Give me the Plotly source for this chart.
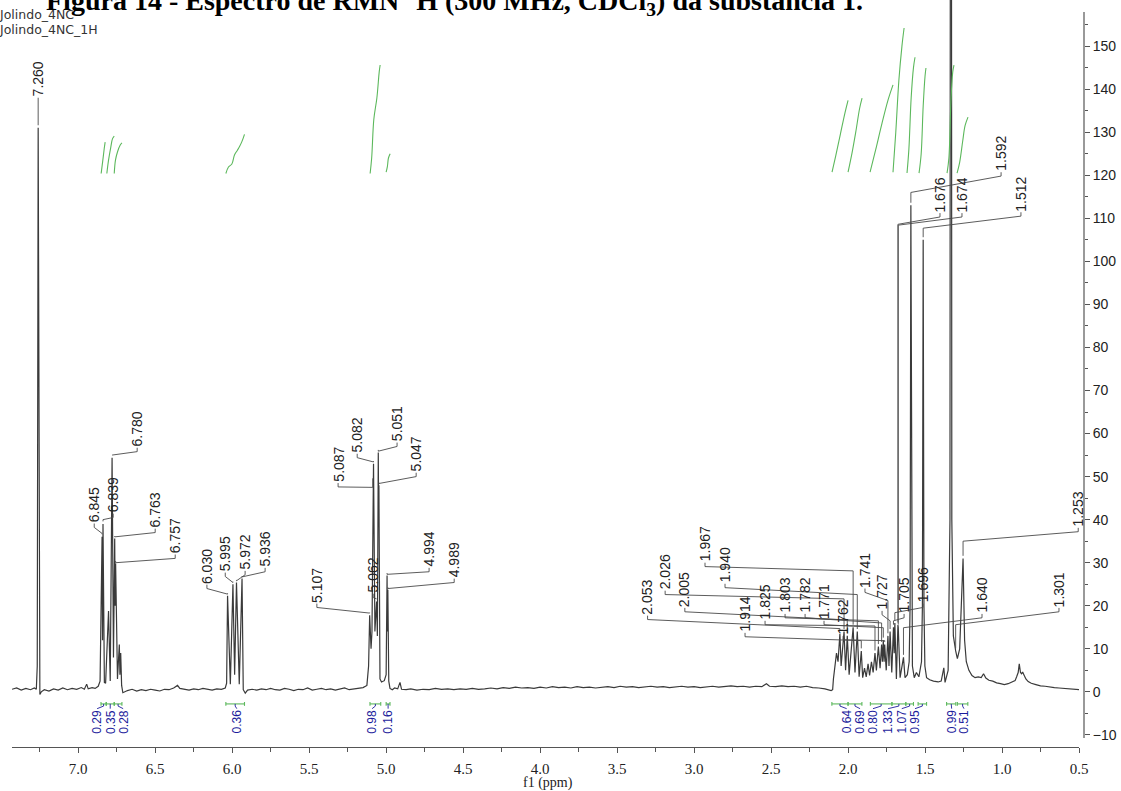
import plotly.graph_objects as go

# ---------------- axis frame ----------------
X_LEFT, X_RIGHT = 7.43, 0.50          # f1 (ppm), reversed
Y_BOTTOM, Y_TOP = -10.7, 160.7        # intensity
Y_AXIS_TOP = 157.9

# ---------------- labelled peaks ----------------
peak_labels = ["7.260", "6.845", "6.839", "6.780", "6.763", "6.757",
               "6.030", "5.995", "5.972", "5.936",
               "5.107", "5.087", "5.082", "5.062", "5.051", "5.047", "4.994", "4.989",
               "2.053", "2.026", "2.005", "1.967", "1.940", "1.914", "1.825", "1.803",
               "1.782", "1.771", "1.762", "1.741", "1.727", "1.705", "1.696", "1.676",
               "1.674", "1.640", "1.592", "1.512", "1.301", "1.253"]
peak_heights = [131, 36, 39, 54.4, 35.6, 29.8,
                22.3, 25, 25.4, 26.3,
                17.8, 49, 53, 21, 55.6, 48, 27, 23.7,
                13.5, 14, 13, 15, 14, 9.5, 9, 10.5,
                11, 12, 11, 13, 14, 15, 16, 15.5,
                15, 8, 113, 105, 9.5, 31]

# ---------------- remaining trace vertices (baseline, valleys, unlabelled lines) ----------------
trace_ppm = [
    7.43, 7.40, 7.37, 7.34, 7.31, 7.285, 7.272, 7.266, 7.254, 7.249, 7.24, 7.22, 7.19, 7.16,
    7.13, 7.10, 7.07, 7.04, 7.01, 6.98, 6.96, 6.945, 6.935, 6.91, 6.89, 6.870, 6.858,
    6.842, 6.830, 6.822, 6.803, 6.792, 6.771, 6.760, 6.745, 6.733, 6.729, 6.724, 6.718, 6.71,
    6.68, 6.65, 6.62, 6.59, 6.56, 6.53, 6.50, 6.47, 6.44, 6.41, 6.38, 6.355, 6.34, 6.31,
    6.28, 6.25, 6.22, 6.19, 6.16, 6.13, 6.10, 6.07, 6.045, 6.036, 6.012, 5.984, 5.954,
    5.928, 5.915, 5.90, 5.87, 5.84, 5.81, 5.78, 5.75, 5.72, 5.69, 5.66, 5.63, 5.60, 5.57,
    5.54, 5.51, 5.48, 5.45, 5.42, 5.39, 5.36, 5.33, 5.30, 5.27, 5.24, 5.21, 5.18, 5.15,
    5.125, 5.114, 5.098, 5.092, 5.0845, 5.073, 5.067, 5.057, 5.049, 5.040, 5.030, 5.012,
    5.000, 4.9915, 4.983, 4.975, 4.96, 4.945, 4.925, 4.910, 4.900,
    4.87, 4.84, 4.80, 4.76, 4.72, 4.68, 4.64, 4.60, 4.56, 4.52, 4.48, 4.44, 4.40, 4.36,
    4.32, 4.28, 4.24, 4.20, 4.16, 4.12, 4.08, 4.04, 4.00, 3.96, 3.92, 3.88, 3.84, 3.80,
    3.76, 3.72, 3.68, 3.64, 3.60, 3.56, 3.52, 3.48, 3.44, 3.40, 3.36, 3.32, 3.28, 3.24,
    3.20, 3.16, 3.12, 3.08, 3.04, 3.00, 2.96, 2.92, 2.88, 2.84, 2.80, 2.76, 2.72, 2.68,
    2.64, 2.60, 2.56, 2.53, 2.51, 2.47, 2.43, 2.39, 2.35, 2.31, 2.27, 2.23, 2.19, 2.15,
    2.11, 2.10, 2.095, 2.085, 2.075, 2.065, 2.045, 2.036, 2.016, 1.993, 1.980, 1.955,
    1.948, 1.928, 1.921, 1.905, 1.893, 1.882, 1.870, 1.860, 1.848, 1.837, 1.816, 1.792,
    1.777, 1.766, 1.752, 1.734, 1.716, 1.700, 1.686, 1.662, 1.652, 1.630, 1.615, 1.603,
    1.597, 1.587, 1.582, 1.570, 1.556, 1.540, 1.523, 1.517, 1.507, 1.501, 1.490, 1.470,
    1.445, 1.415, 1.395, 1.378, 1.370, 1.350, 1.338, 1.332, 1.326, 1.316, 1.290, 1.275,
    1.243, 1.232, 1.215, 1.195, 1.175, 1.155, 1.135, 1.120, 1.105, 1.085, 1.060, 1.035,
    1.010, 0.985, 0.960, 0.935, 0.915, 0.905, 0.895, 0.888, 0.880, 0.873, 0.866, 0.858,
    0.845, 0.830, 0.810, 0.780, 0.750, 0.720, 0.690, 0.660, 0.630, 0.600, 0.570, 0.540,
    0.500,
]
trace_int = [
    0.6, 0.9, 0.4, 0.8, 0.5, 0.9, 0.6, 6, 5, -0.6, 0.0, 0.5, 0.2, 0.7,
    0.4, 0.9, 0.5, 0.8, 0.6, 1.0, 0.6, 1.8, 0.7, 1.0, 0.8, 1.3, 2.5,
    12, 2.2, 2.0, 18.8, 2.5, 8, 20, 3, 11, 4, 9, 1.5, -0.2,
    0.3, 0.6, 0.2, 0.5, 0.3, 0.6, 0.4, 0.2, 0.6, 0.5, 0.9, 1.5, 0.8, 0.6,
    0.4, 0.7, 0.5, 0.8, 0.6, 0.4, 0.7, 0.6, 0.9, 2, 1.8, 4, 1.8,
    0.5, -0.3, 0.4, 0.6, 0.4, 0.7, 0.5, 0.8, 0.5, 0.4, 0.8, 0.6, 0.3, 0.6,
    0.5, 0.9, 0.4, 0.6, 0.8, 0.5, 0.7, 0.4, 0.6, 0.9, 0.5, 0.7, 0.8, 1.0,
    1.5, 6, 10, 14, 40, 14, 17, 13, 42, 3, 2.3, 2.6,
    4, 14, 2.5, 0.8, 0.5, 0.9, 0.7, 2.2, 0.6,
    0.5, 0.7, 0.4, 0.6, 0.5, 0.8, 0.6, 0.7, 0.5, 0.7, 0.6, 0.8, 0.6, 0.7,
    0.9, 0.7, 1.0, 0.8, 1.1, 0.9, 1.0, 0.8, 1.1, 0.9, 1.2, 1.0, 1.1, 0.9,
    1.2, 1.0, 1.1, 0.9, 1.0, 1.2, 1.0, 1.3, 1.1, 1.2, 1.0, 1.1, 1.3, 1.1,
    1.2, 1.0, 1.1, 1.3, 1.1, 1.2, 1.0, 1.2, 1.3, 1.1, 1.2, 1.4, 1.2, 1.3,
    1.1, 1.3, 1.2, 1.9, 1.3, 1.2, 1.4, 1.2, 1.3, 1.1, 1.3, 1.0, 0.9, 0.7,
    0.3, 0.5, 3, 6, 9, 7, 6, 10, 5, 4, 9, 4.5,
    8, 3.5, 6, 3.3, 5.5, 3.5, 6.5, 3.8, 7, 4.5, 5, 5.5,
    7, 7, 5, 6, 4.5, 9, 3, 3.3, 6, 3.3, 4, 7,
    20, 20, 6, 3.3, 4.5, 3.5, 7, 20, 20, 6, 3.3, 2.8,
    2.5, 2.3, 2.5, 5.6, 2.2, 5, 40, 420, 40, 13, 7.7, 10,
    12, 7, 5, 3.8, 3.3, 3.5, 3.3, 4.2, 3.2, 2.7, 2.5, 2.1,
    1.9, 1.7, 1.9, 2.2, 2.6, 3.5, 4.5, 6.5, 4.5, 4.2, 4.6, 4.0,
    3.0, 2.4, 2.0, 1.7, 1.4, 1.3, 1.1, 1.0, 0.9, 0.8, 0.7, 0.6,
    0.5,
]

# ---------------- peak-label layout: label position (ppm), text foot, leader elbow ----------------
label_ppm = [7.260, 6.896, 6.773, 6.617, 6.500, 6.370,
             6.164, 6.045, 5.916, 5.786,
             5.450, 5.312, 5.188, 5.084, 4.929, 4.805, 4.721, 4.558,
             3.302, 3.188, 3.060, 2.929, 2.799, 2.669, 2.539, 2.409,
             2.279, 2.156, 2.032, 1.890, 1.779, 1.636, 1.513, 1.403,
             1.260, 1.130, 1.006, 0.877, 0.630, 0.505]
label_foot = [138, 39.1, 41.4, 56.7, 37.9, 31.9,
              24.9, 27.7, 28.1, 28.8,
              20.5, 48.5, 55.3, 22.8, 57.9, 50.9, 28.8, 26.3,
              17.7, 23.5, 19.5, 30, 25.1, 13.7, 16.5, 18.1,
              18.1, 16.5, 13, 24, 18.8, 18.1, 20.5, 111.2,
              111.2, 18.1, 120.7, 111.4, 19.5, 38.1]
leader_elbow = [135, 36.8, 40, 55, 36, 30,
                22.7, 25.4, 25.8, 26.7,
                18.3, 47.5, 53.4, 21.6, 55.9, 48.4, 27.3, 24,
                14.7, 21.6, 16.7, 28.1, 22.6, 11.9, 15.3, 16.5,
                16, 14.9, 11.9, 21.2, 16.5, 16.5, 18.4, 108.6,
                108.4, 14.9, 116, 107.7, 15.6, 35]

# ---------------- integrals ----------------
integral_values = ["0.29", "0.35", "0.28", "0.36", "0.98", "0.16", "0.64",
                   "0.69", "0.80", "1.33", "1.07", "0.95", "0.99", "0.51"]
integral_from = [6.852, 6.818, 6.766, 6.041, 5.105, 5.000, 2.105,
                 2.000, 1.855, 1.715, 1.625, 1.545, 1.360, 1.290]
integral_to = [6.818, 6.766, 6.716, 5.920, 5.035, 4.975, 2.000,
               1.910, 1.715, 1.625, 1.575, 1.490, 1.300, 1.222]
integral_label_ppm = [6.877, 6.792, 6.708, 5.970, 5.091, 4.987, 2.009,
                      1.922, 1.838, 1.740, 1.651, 1.565, 1.327, 1.247]
# cumulative integral curves drawn above the multiplets
integral_curve_ppm = [
    [6.851, 6.840, 6.831, 6.825],
    [6.814, 6.803, 6.788, 6.777, 6.766],
    [6.766, 6.758, 6.745, 6.727, 6.716],
    [6.041, 6.024, 6.002, 5.985, 5.966, 5.953, 5.937, 5.920],
    [5.104, 5.094, 5.080, 5.060, 5.045, 5.039],
    [5.000, 4.992, 4.985, 4.974],
    [2.104, 2.080, 2.050, 2.020, 2.000],
    [2.000, 1.975, 1.950, 1.925, 1.909],
    [1.857, 1.820, 1.780, 1.740, 1.708],
    [1.708, 1.690, 1.670, 1.650, 1.636],
    [1.617, 1.605, 1.590, 1.575, 1.565],
    [1.539, 1.525, 1.512, 1.500, 1.494],
    [1.357, 1.345, 1.332, 1.320, 1.312],
    [1.292, 1.275, 1.255, 1.240, 1.221],
]
integral_curve_int = [
    [120.4, 123.5, 126.2, 127.7],
    [120.4, 123.5, 126.6, 128.5, 129.1],
    [120.4, 123.5, 125.4, 127.0, 127.5],
    [120.4, 121.9, 122.6, 124.7, 125.8, 126.6, 127.8, 129.5],
    [120.4, 124.0, 133.0, 138.0, 144.0, 145.6],
    [120.7, 122.0, 124.0, 125.0],
    [120.7, 124.5, 129.5, 134.5, 137.4],
    [120.7, 125.0, 130.0, 135.5, 137.9],
    [120.7, 126.0, 132.0, 137.5, 141.0],
    [120.7, 130.0, 142.0, 150.0, 154.2],
    [120.5, 126.0, 138.0, 145.0, 147.4],
    [120.5, 125.0, 136.0, 143.0, 144.9],
    [120.5, 124.0, 137.0, 144.0, 145.6],
    [120.5, 123.0, 128.0, 131.5, 133.5],
]

INK = "#3a3a3a"
GREEN = "#5cb85c"
BLUE = "#1c1c9c"
SANS = "Liberation Sans, DejaVu Sans, sans-serif"
SERIF = "Liberation Serif, DejaVu Serif, serif"

# page grid the layout is laid out on
PAGE_W, PAGE_H = 1121, 791


def px(x):
    return x / PAGE_W


def py(y):
    return 1 - y / PAGE_H


# merge labelled lines into the trace and order by decreasing shift
points = [(float(t), h) for t, h in zip(peak_labels, peak_heights)]
points += list(zip(trace_ppm, trace_int))
points.sort(key=lambda p: -p[0])
spec_x = [p[0] for p in points]
spec_y = [p[1] for p in points]

fig = go.Figure()

fig.add_trace(go.Scatter(x=spec_x, y=spec_y, mode="lines",
                         line=dict(color=INK, width=1.2), hoverinfo="skip"))

# peak-label leaders: foot stub -> slanted run -> drop onto the line
lx, ly = [], []
for t, h, lp, foot, elbow in zip(peak_labels, peak_heights, label_ppm, label_foot, leader_elbow):
    p = float(t)
    lx += [lp, lp, p, p, None]
    ly += [foot, foot - 0.9, elbow, h + 0.6, None]
fig.add_trace(go.Scatter(x=lx, y=ly, mode="lines",
                         line=dict(color="#4a4a4a", width=0.9), hoverinfo="skip"))

# integral curves
for cx, cy in zip(integral_curve_ppm, integral_curve_int):
    fig.add_trace(go.Scatter(x=cx, y=cy, mode="lines", line=dict(color=GREEN, width=1.1),
                             line_shape="spline", hoverinfo="skip"))

# integral brackets under the baseline
BRK = -2.8
bx, by = [], []
for a, b in zip(integral_from, integral_to):
    bx += [a, b, None, a, a, None, b, b, None]
    by += [BRK, BRK, None, BRK + 0.45, BRK - 0.45, None, BRK + 0.45, BRK - 0.45, None]
fig.add_trace(go.Scatter(x=bx, y=by, mode="lines", line=dict(color=GREEN, width=1.1),
                         hoverinfo="skip"))
qx, qy = [], []
for a, b, m in zip(integral_from, integral_to, integral_label_ppm):
    c = (a + b) / 2
    qx += [c, c, m, None]
    qy += [BRK, BRK - 0.5, -3.9, None]
fig.add_trace(go.Scatter(x=qx, y=qy, mode="lines", line=dict(color=BLUE, width=0.9),
                         hoverinfo="skip"))

annotations = []
for t, lp, foot in zip(peak_labels, label_ppm, label_foot):
    annotations.append(dict(text=t, x=lp, y=foot, xref="x", yref="y", showarrow=False,
                            textangle=-90, xanchor="center", yanchor="bottom",
                            font=dict(family=SANS, size=14, color="#222222"), borderpad=0))
for t, m in zip(integral_values, integral_label_ppm):
    annotations.append(dict(text=t, x=m, y=-3.9, xref="x", yref="y", showarrow=False,
                            textangle=-90, xanchor="center", yanchor="top",
                            font=dict(family=SANS, size=12, color=BLUE), borderpad=0))

annotations += [
    dict(text="<b>Figura 14 - Espectro de RMN <sup>1</sup>H (300 MHz, CDCl<sub>3</sub>) da substância 1.</b>",
         x=px(44), y=py(0), xref="paper", yref="paper", xanchor="left", yanchor="middle",
         showarrow=False, font=dict(family=SERIF, size=28, color="#000000")),
    dict(text="Jolindo_4NC", x=px(-3), y=py(14), xref="paper", yref="paper",
         xanchor="left", yanchor="middle", showarrow=False,
         font=dict(family="DejaVu Sans", size=12.5, color="#333333")),
    dict(text="Jolindo_4NC_1H", x=px(-3), y=py(29), xref="paper", yref="paper",
         xanchor="left", yanchor="middle", showarrow=False,
         font=dict(family="DejaVu Sans", size=12.5, color="#333333")),
    dict(text="f1 (ppm)", x=px(548), y=py(782), xref="paper", yref="paper",
         xanchor="center", yanchor="middle", showarrow=False,
         font=dict(family=SERIF, size=14, color="#222222")),
]

# right-hand intensity axis line
shapes = [dict(type="line", xref="paper", yref="y", x0=px(1084), x1=px(1084),
               y0=Y_BOTTOM, y1=Y_AXIS_TOP, line=dict(color="#555555", width=1.2))]

fig.update_layout(
    width=1130, height=797,
    margin=dict(l=0, r=0, t=0, b=0),
    paper_bgcolor="white", plot_bgcolor="white",
    showlegend=False,
    annotations=annotations,
    shapes=shapes,
    xaxis=dict(range=[X_LEFT, X_RIGHT], domain=[px(12), px(1079)],
               anchor="free", position=py(746),
               showline=True, linecolor="#555555", linewidth=1.2,
               ticks="outside", ticklen=5, tickcolor="#555555", dtick=0.5, tick0=0,
               tickformat=".1f", showgrid=False, zeroline=False,
               minor=dict(ticks="outside", ticklen=4, dtick=0.25, tick0=0, tickcolor="#555555"),
               tickfont=dict(family=SERIF, size=15, color="#222222"),
               ticklabelstandoff=3),
    yaxis=dict(range=[Y_BOTTOM, Y_TOP], domain=[py(737), 1.0],
               side="right", anchor="free", position=px(1084),
               showline=False, ticks="outside", ticklen=5, tickcolor="#555555",
               tickvals=list(range(-10, 151, 10)), showgrid=False, zeroline=False,
               minor=dict(ticks="outside", ticklen=3, tickvals=list(range(-5, 156, 10)),
                          tickcolor="#555555"),
               tickfont=dict(family=SANS, size=14, color="#222222")),
)

fig.write_html("out.html")
